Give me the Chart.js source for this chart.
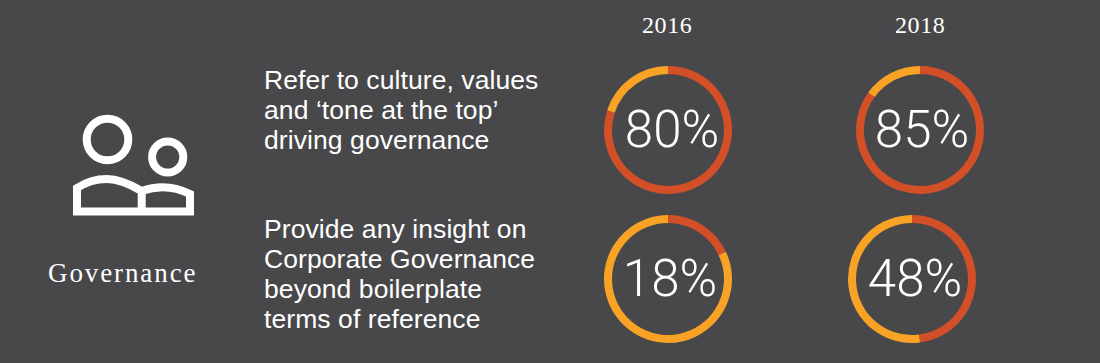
<!DOCTYPE html>
<html>
<head>
<meta charset="utf-8">
<script src="https://cdn.jsdelivr.net/npm/chart.js@4"></script>
<style>
  html, body { margin: 0; padding: 0; }
  body { width: 1100px; height: 363px; background: #48484a; position: relative; overflow: hidden; color: #fff; }
  .abs { position: absolute; white-space: nowrap; }
  .serif { font-family: "Liberation Serif", serif; }
  .year { font-size: 24px; line-height: 26px; letter-spacing: 0.6px; }
  .question { font-family: "Liberation Sans", sans-serif; font-size: 26.5px; line-height: 30px; letter-spacing: 0.08px; }
  .ring { position: absolute; width: 140px; height: 140px; }
  .pct { font-family: "Roboto", sans-serif; font-weight: 300; font-size: 51px; line-height: 60px; width: 140px; text-align: center; }
</style>
</head>
<body>
<svg class="abs" style="left:0;top:0" width="300" height="300" fill="none" stroke="#fff" stroke-width="8">
  <circle cx="107.5" cy="139.5" r="20.8"></circle>
  <circle cx="167.7" cy="157" r="15.6"></circle>
  <path d="M141.7 191 C128 183 118 179 107 179 C96 179 86 182 77 188 V211.5 H190 V194 C174 186 158 185 141.7 191 V211.5"></path>
</svg>
<div class="abs serif" style="left:48px;top:258px;font-size:27px;line-height:30px;letter-spacing:1.9px">Governance</div>
<div id="root"></div>

<script>
// ================== DATA ==================
const years = ['2016', '2018'];
const questions = [
  ['Refer to culture, values', 'and ‘tone at the top’', 'driving governance'],
  ['Provide any insight on', 'Corporate Governance', 'beyond boilerplate', 'terms of reference']
];
const values2016 = [80, 18];
const values2018 = [85, 48];

const RED = '#d24f27';
const ORANGE = '#f9a326';

const root = document.getElementById('root');

function addDiv(cls, left, top, text) {
  const d = document.createElement('div');
  d.className = 'abs ' + cls;
  d.style.left = left + 'px';
  d.style.top = top + 'px';
  d.innerHTML = text;
  root.appendChild(d);
  return d;
}

function addRing(cx, cy, value, textShift) {
  const holder = document.createElement('div');
  holder.className = 'ring';
  holder.style.left = (cx - 70) + 'px';
  holder.style.top = (cy - 70) + 'px';
  const canvas = document.createElement('canvas');
  canvas.width = 140;
  canvas.height = 140;
  holder.appendChild(canvas);
  root.appendChild(holder);

  new Chart(canvas.getContext('2d'), {
    type: 'doughnut',
    data: {
      labels: ['Yes', 'No'],
      datasets: [{ data: [value, 100 - value], backgroundColor: [RED, ORANGE], borderWidth: 0 }]
    },
    options: {
      responsive: false,
      animation: false,
      radius: 64,
      cutout: '87.5%',
      plugins: { legend: { display: false }, tooltip: { enabled: false } }
    }
  });

  addDiv('pct', cx - 70 + textShift, cy - 30, value + '%');
}

// tiêu đề năm
addDiv('serif year', 642, 12, years[0]);
addDiv('serif year', 895, 12, years[1]);

// câu hỏi
addDiv('question', 264, 65, questions[0].join('<br>'));
addDiv('question', 264, 214, questions[1].join('<br>'));

// vòng tròn
addRing(668, 130, values2016[0], 4);
addRing(920, 130, values2018[0], 2);
addRing(668, 279, values2016[1], 2);
addRing(912, 279, values2018[1], 3);
</script>
</body>
</html>
